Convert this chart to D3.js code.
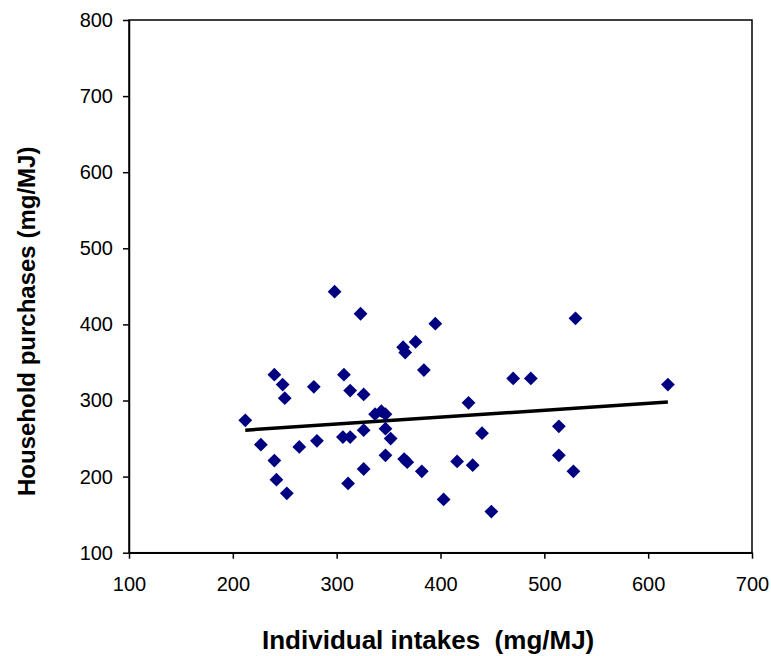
<!DOCTYPE html>
<html>
<head>
<meta charset="utf-8">
<style>
  body { margin: 0; background: white; }
  svg text { font-family: "Liberation Sans", Arial, sans-serif; }
</style>
</head>
<body>
<div id="chart"></div>
<script src="https://d3js.org/d3.v7.min.js"></script>
<script>
const intakes = [212, 227, 240, 242, 252, 264, 281, 306, 313, 326, 311, 326, 347, 352, 347,
  337, 343, 347, 298, 323, 240, 248, 250, 278, 307, 313, 326, 395, 530, 364, 366, 376, 384,
  470, 487, 619, 427, 440, 514, 365, 368, 382, 416, 431, 514, 528, 403, 449];
const purchases = [274, 242, 221, 196, 178, 239, 247, 252, 252, 261, 191, 210, 263, 250, 228,
  282, 286, 282, 443, 414, 334, 321, 303, 318, 334, 313, 308, 401, 408, 370, 363, 377, 340,
  329, 329, 321, 297, 257, 266, 223, 219, 207, 220, 215, 228, 207, 170, 154];
const trendX = [212, 619];
const trendY = [261, 298];
const xTicks = [100, 200, 300, 400, 500, 600, 700];
const yTicks = [100, 200, 300, 400, 500, 600, 700, 800];

const width = 771, height = 656;
const margin = { top: 20, right: 19, bottom: 103.3, left: 129 };
const innerW = width - margin.left - margin.right;
const innerH = height - margin.top - margin.bottom;

const svg = d3.select("#chart").append("svg")
  .attr("width", width)
  .attr("height", height);

const g = svg.append("g")
  .attr("transform", `translate(${margin.left},${margin.top})`);

const x = d3.scaleLinear().domain([100, 700]).range([0, innerW]);
const y = d3.scaleLinear().domain([100, 800]).range([innerH, 0]);

// plot frame
g.append("rect")
  .attr("width", innerW)
  .attr("height", innerH)
  .attr("fill", "none")
  .attr("stroke", "#000")
  .attr("stroke-width", 1.5);

const xAxis = g.append("g")
  .attr("transform", `translate(0,${innerH})`)
  .call(d3.axisBottom(x).tickValues(xTicks).tickSizeInner(6).tickSizeOuter(0).tickPadding(18));

const yAxis = g.append("g")
  .call(d3.axisLeft(y).tickValues(yTicks).tickSizeInner(6).tickSizeOuter(0).tickPadding(10));

[xAxis, yAxis].forEach(a => {
  a.select(".domain").attr("stroke", "#000").attr("stroke-width", 1.5);
  a.selectAll(".tick line").attr("stroke", "#000").attr("stroke-width", 1.5);
  a.selectAll(".tick text")
    .attr("fill", "#000")
    .style("font-size", "20px")
    .style("font-family", "Liberation Sans, Arial, sans-serif");
});

// trend line
g.append("path")
  .datum(trendX.map((d, i) => [d, trendY[i]]))
  .attr("fill", "none")
  .attr("stroke", "#000")
  .attr("stroke-width", 3.5)
  .attr("d", d3.line().x(d => x(d[0])).y(d => y(d[1])));

// points
const diamond = d3.symbol().type(d3.symbolSquare).size(95);
g.selectAll(".pt")
  .data(intakes.map((d, i) => [d, purchases[i]]))
  .join("path")
  .attr("class", "pt")
  .attr("d", diamond)
  .attr("fill", "#000080")
  .attr("transform", d => `translate(${x(d[0])},${y(d[1])}) rotate(45)`);

// axis titles
svg.append("text")
  .attr("x", 262)
  .attr("y", 649)
  .style("font-size", "26px")
  .style("font-weight", "bold")
  .style("white-space", "pre")
  .attr("fill", "#000")
  .text("Individual intakes  (mg/MJ)");

svg.append("text")
  .attr("transform", "translate(35,496) rotate(-90)")
  .style("font-size", "24px")
  .style("font-weight", "bold")
  .attr("fill", "#000")
  .text("Household purchases (mg/MJ)");
</script>
</body>
</html>
